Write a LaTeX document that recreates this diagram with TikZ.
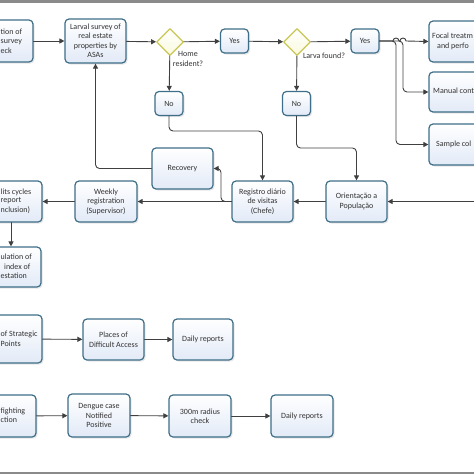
\documentclass[tikz,border=0pt]{standalone}
\usepackage{fontspec}
\setmainfont{Carlito}
\usetikzlibrary{arrows.meta,shapes.geometric,shadows}
\definecolor{boxline}{RGB}{62,110,136}
\definecolor{boxfill}{RGB}{226,234,247}
\definecolor{gateline}{RGB}{202,198,84}
\definecolor{gatefill}{RGB}{250,250,222}
\definecolor{flowline}{RGB}{64,64,64}
\definecolor{txt}{RGB}{50,50,50}
\definecolor{framegray}{RGB}{138,138,138}
\tikzset{
  task/.style={draw=boxline,line width=1.2pt,rounded corners=4pt,top color=white,bottom color=boxfill,
    drop shadow={opacity=0.2,shadow xshift=1.5pt,shadow yshift=-1.5pt},
    minimum width=61pt,minimum height=41pt,align=center,text=txt,inner sep=1pt,
    font=\fontsize{8}{9.5}\selectfont},
  answer/.style={task,minimum width=28pt,minimum height=24pt},
  gate/.style={diamond,draw=gateline,line width=1.2pt,top color=white,bottom color=gatefill,
    minimum size=27pt,inner sep=0pt},
  frag/.style={text=txt,inner sep=0pt,font=\fontsize{8}{9.5}\selectfont},
  gatelabel/.style={text=txt,inner sep=0pt,align=center,font=\fontsize{8}{9.5}\selectfont},
  flow/.style={->,draw=flowline,line width=0.9pt}
}
\begin{document}
\begin{tikzpicture}[line cap=round,line join=round,>={Triangle[length=5pt,width=5pt]},x=1pt,y=-1pt]
\useasboundingbox (0,0) rectangle (474,474);
\clip (0,0) rectangle (474,474);
\fill[framegray] (0,0) rectangle (474,2.5);
\fill[framegray] (0,471.5) rectangle (474,474);
% top row
\node[task,minimum width=63pt,minimum height=42pt] (def) at (1.5,41) {};
\node[frag,anchor=west] (def1) at (0.5,32) {tion of};
\node[frag,anchor=west] (def2) at (0.5,42) {survey};
\node[frag,anchor=west] (def3) at (0.5,51) {eck};
\node[task,minimum height=44pt] (larval) at (95.5,41) {Larval survey of\\real estate\\properties by\\ASAs};
\node[gate] (home) at (170,42) {};
\node[gatelabel] (homelbl) at (188,59) {Home\\resident?};
\node[answer] (yes1) at (234.5,41) {Yes};
\node[answer] (no1) at (169,103.5) {No};
\node[gate] (larva) at (297,42) {};
\node[gatelabel] (larvalbl) at (324,56) {Larva found?};
\node[answer] (yes2) at (365,41) {Yes};
\node[answer] (no2) at (296.5,103.5) {No};
\node[task,minimum width=62pt] (focal) at (460,41.5) {};
\node[frag,anchor=west] (focal1) at (432,36) {Focal treatm};
\node[frag,anchor=west] (focal2) at (437,46) {and perfo};
\node[task,minimum width=62pt,minimum height=40pt] (manual) at (460,92) {};
\node[frag,anchor=west] (manual1) at (433,91) {Manual cont};
\node[task,minimum width=62pt] (sample) at (460,144.5) {};
\node[frag,anchor=west] (sample1) at (436,144) {Sample col};
% middle row
\node[task] (recovery) at (182.5,168.5) {Recovery};
\node[task] (registro) at (262.5,201.5) {Registro diário\\de visitas\\(Chefe)};
\node[task] (orient) at (356.5,201.5) {Orientação a\\População};
\node[task,minimum width=62pt] (weekly) at (106,201.5) {Weekly\\registration\\(Supervisor)};
\node[task,minimum width=62pt] (cycles) at (11,201.5) {};
\node[frag,anchor=west] (cycles1) at (0.5,192) {lits cycles};
\node[frag,anchor=west] (cycles2) at (0.5,201) {report};
\node[frag,anchor=west] (cycles3) at (0.5,210) {nclusion)};
\node[task,minimum width=62pt,minimum height=40pt] (calc) at (10,267) {};
\node[frag,anchor=west] (calc1) at (0.5,257) {ulation of};
\node[frag,anchor=west] (calc2) at (4,267) {index of};
\node[frag,anchor=west] (calc3) at (0.5,276) {estation};
\coordinate (inright) at (474,201.5);
% strategic points
\node[task,minimum width=62pt,minimum height=48pt] (strat) at (11,339) {};
\node[frag,anchor=west] (strat1) at (0.5,334) {of Strategic};
\node[frag,anchor=west] (strat2) at (0.5,344) {Points};
\node[task] (places) at (113.5,339.5) {Places of\\Difficult Access};
\node[task,minimum width=60pt] (daily1) at (203,339.5) {Daily reports};
% dengue case
\node[task,minimum width=62pt,minimum height=42pt] (fight) at (5,416) {};
\node[frag,anchor=west] (fight1) at (0.5,411) {fighting};
\node[frag,anchor=west] (fight2) at (0.5,420) {ction};
\node[task,minimum width=62pt,minimum height=43pt] (dengue) at (99,415.5) {Dengue case\\Notified\\Positive};
\node[task,minimum width=62pt,minimum height=42pt] (radius) at (200,416) {300m radius\\check};
\node[task,minimum width=62pt,minimum height=42pt] (daily2) at (302,416) {Daily reports};
% connectors
\draw[flow] (def) -- (larval);
\draw[flow] (larval) -- (home);
\draw[flow] (home) -- (yes1);
\draw[flow] (yes1) -- (larva);
\draw[flow] (larva) -- (yes2);
\draw[flow] (home) -- (no1);
\draw[flow] (larva) -- (no2);
\draw[flow] (yes2.east) -- (393,41) arc[start angle=180,end angle=0,radius=3pt] -- (400,41) arc[start angle=180,end angle=0,radius=3pt] -- (focal.west);
\draw[flow,rounded corners=4pt] (yes2.east) -- (403,41) |- (manual.west);
\draw[flow,rounded corners=4pt] (yes2.east) -- (396,41) |- (sample.west);
\draw[flow,rounded corners=4pt] (no1.south) -- (169,131) -| (registro.north);
\draw[flow,rounded corners=4pt] (no2.south) -- (296.5,148) -| (orient.north);
\draw[flow] (inright) -- (orient.east);
\draw[flow] (orient) -- (registro);
\draw[flow] (registro) -- (weekly);
\draw[flow,rounded corners=4pt] (registro.west) -- (221,201.5) |- (recovery.east);
\draw[flow,rounded corners=4pt] (recovery.west) -| (larval.south);
\draw[flow] (weekly) -- (cycles);
\draw[flow] (cycles.south) -- (cycles.south |- calc.north);
\draw[flow] (strat) -- (places);
\draw[flow] (places) -- (daily1);
\draw[flow] (fight) -- (dengue);
\draw[flow] (dengue) -- (radius);
\draw[flow] (radius) -- (daily2);
\end{tikzpicture}
\end{document}
